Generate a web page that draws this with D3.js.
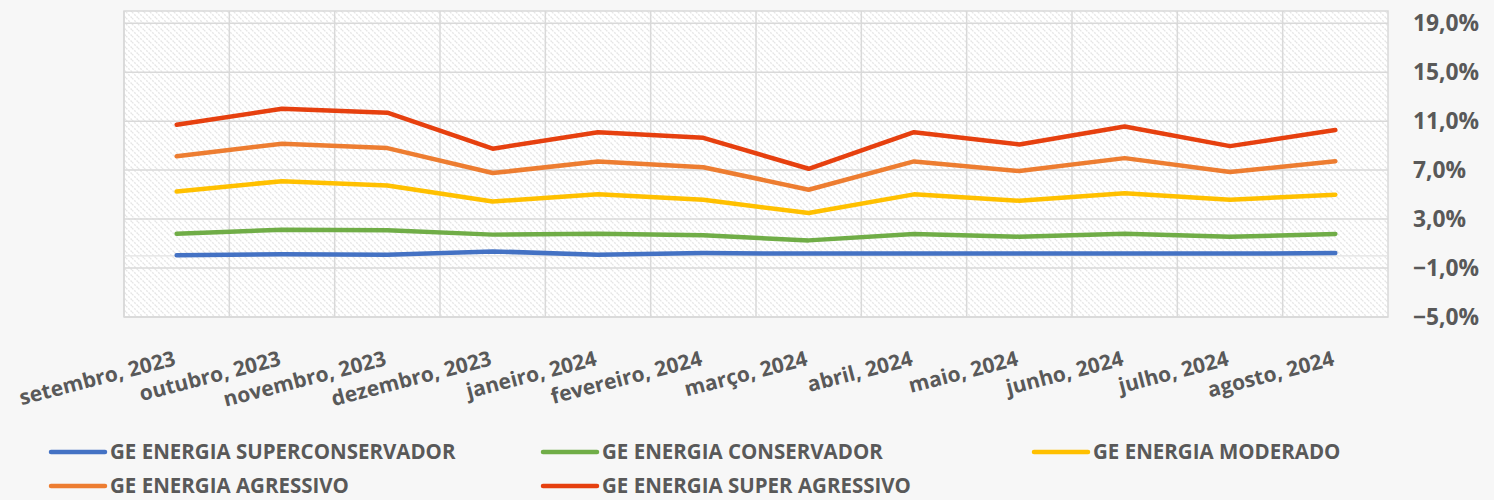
<!DOCTYPE html>
<html lang="pt">
<head>
  <meta charset="UTF-8">
  <title>GE Energia</title>
  <script src="https://d3js.org/d3.v7.min.js"></script>
  <style>
    body { margin: 0; background: #f7f7f7; }
    text { font-family: "Open Sans", sans-serif; font-weight: bold; fill: #595959; }
  </style>
</head>
<body>
  <svg width="1494" height="500"></svg>
  <script>
    const months = ["setembro, 2023", "outubro, 2023", "novembro, 2023", "dezembro, 2023",
      "janeiro, 2024", "fevereiro, 2024", "março, 2024", "abril, 2024",
      "maio, 2024", "junho, 2024", "julho, 2024", "agosto, 2024"];
    const yTicks = [-5, -1, 3, 7, 11, 15, 19];

    const superConservador = [0.04, 0.12, 0.09, 0.36, 0.09, 0.22, 0.18, 0.18, 0.18, 0.18, 0.18, 0.22];
    const conservador = [1.81, 2.13, 2.08, 1.73, 1.81, 1.67, 1.26, 1.78, 1.56, 1.81, 1.56, 1.78];
    const moderado = [5.26, 6.10, 5.75, 4.44, 5.02, 4.58, 3.49, 5.02, 4.50, 5.12, 4.58, 4.99];
    const agressivo = [8.14, 9.16, 8.80, 6.76, 7.71, 7.24, 5.40, 7.71, 6.92, 7.98, 6.84, 7.73];
    const superAgressivo = [10.71, 12.01, 11.69, 8.75, 10.10, 9.64, 7.11, 10.10, 9.10, 10.57, 8.96, 10.27];

    const series = [
      { name: "GE ENERGIA SUPERCONSERVADOR", values: superConservador, color: "#4472c4" },
      { name: "GE ENERGIA CONSERVADOR", values: conservador, color: "#70ad47" },
      { name: "GE ENERGIA MODERADO", values: moderado, color: "#ffc000" },
      { name: "GE ENERGIA AGRESSIVO", values: agressivo, color: "#ed7d31" },
      { name: "GE ENERGIA SUPER AGRESSIVO", values: superAgressivo, color: "#e6400f" }
    ];

    const svg = d3.select("svg");
    const plot = { left: 124, right: 1388, top: 11, bottom: 317 };

    const x = d3.scaleBand().domain(months).range([plot.left, plot.right]).padding(0);
    const y = d3.scaleLinear().domain([-5, 20]).range([plot.bottom, plot.top]);

    // hatch fill of the plot area
    const defs = svg.append("defs");
    const pat = defs.append("pattern")
      .attr("id", "hatch")
      .attr("patternUnits", "userSpaceOnUse")
      .attr("width", 6).attr("height", 6);
    pat.append("rect").attr("width", 6).attr("height", 6).attr("fill", "#ffffff");
    pat.append("path")
      .attr("d", "M0,0 L6,6 M-3,3 L0,6 M3,-3 L6,0")
      .attr("stroke", "#e6e6e6")
      .attr("stroke-width", 1.3)
      .attr("stroke-dasharray", "2,1.2");

    svg.append("rect")
      .attr("x", plot.left).attr("y", plot.top)
      .attr("width", plot.right - plot.left).attr("height", plot.bottom - plot.top)
      .attr("fill", "url(#hatch)")
      .attr("stroke", "#d9d9d9")
      .attr("stroke-width", 1.5);

    // gridlines
    svg.append("g").selectAll("line")
      .data(yTicks)
      .join("line")
      .attr("x1", plot.left).attr("x2", plot.right)
      .attr("y1", d => y(d)).attr("y2", d => y(d))
      .attr("stroke", "#d9d9d9").attr("stroke-width", 1.5);

    svg.append("g").selectAll("line")
      .data(months)
      .join("line")
      .attr("x1", d => x(d)).attr("x2", d => x(d))
      .attr("y1", plot.top).attr("y2", plot.bottom)
      .attr("stroke", "#d9d9d9").attr("stroke-width", 1.5);

    // zero axis line
    svg.append("line")
      .attr("x1", plot.left).attr("x2", plot.right)
      .attr("y1", y(0)).attr("y2", y(0))
      .attr("stroke", "#e3e3e3").attr("stroke-width", 1.2);

    // right y axis labels
    svg.append("g").selectAll("text")
      .data(yTicks)
      .join("text")
      .attr("x", 1413)
      .attr("y", d => y(d))
      .attr("dy", "0.36em")
      .style("font-size", "22.8px")
      .text(d => d3.format(".1f")(d).replace(".", ",") + "%");

    // x labels, rotated
    svg.append("g").selectAll("text")
      .data(months)
      .join("text")
      .attr("text-anchor", "end")
      .attr("transform", d => `translate(${x(d) + x.bandwidth() / 2},${plot.bottom + 48}) rotate(-14.5)`)
      .style("font-size", "21px")
      .text(d => d);

    // lines
    const line = d3.line()
      .x((d, i) => x(months[i]) + x.bandwidth() / 2)
      .y(d => y(d));

    svg.append("g").selectAll("path")
      .data(series)
      .join("path")
      .attr("d", d => line(d.values))
      .attr("fill", "none")
      .attr("stroke", d => d.color)
      .attr("stroke-width", 4.5)
      .attr("stroke-linecap", "round")
      .attr("stroke-linejoin", "round");

    // legend
    const legendPos = [[51, 452], [543, 452], [1034, 452], [51, 486], [543, 486]];
    const legend = svg.append("g").selectAll("g")
      .data(series)
      .join("g")
      .attr("transform", (d, i) => `translate(${legendPos[i][0]},${legendPos[i][1]})`);
    legend.append("line")
      .attr("x1", 0).attr("x2", 54)
      .attr("stroke", d => d.color)
      .attr("stroke-width", 4.5)
      .attr("stroke-linecap", "round");
    legend.append("text")
      .attr("x", 59)
      .attr("dy", "0.36em")
      .style("font-size", "20.5px")
      .text(d => d.name);
  </script>
</body>
</html>
